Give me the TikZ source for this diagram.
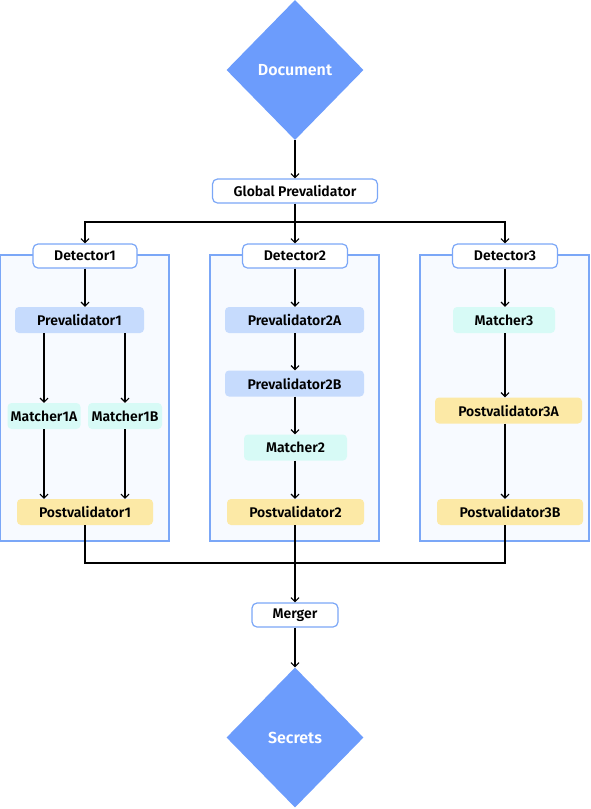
\documentclass[tikz,border=0pt]{standalone}
\usepackage{fontspec}
\setmainfont{Fira Sans}[BoldFont={Fira Sans SemiBold}]
\usetikzlibrary{shapes.geometric,arrows.meta}
\definecolor{dia}{HTML}{6C9CFC}
\definecolor{bord}{HTML}{7BA7F7}
\definecolor{cont}{HTML}{F7FAFF}
\definecolor{pre}{HTML}{C6DBFD}
\definecolor{mat}{HTML}{D7FAF6}
\definecolor{post}{HTML}{FCE9A6}
\begin{document}
\begin{tikzpicture}[x=1pt,y=-1pt,
  every node/.style={font=\bfseries\fontsize{14}{16}\selectfont, inner sep=0pt},
  dianode/.style={diamond, fill=dia, text=white, minimum width=137pt, minimum height=140pt, font=\bfseries\fontsize{16}{18}\selectfont},
  wbox/.style={draw=bord, fill=white, line width=1.2pt, rounded corners=5pt, minimum height=24pt},
  prebox/.style={fill=pre, rounded corners=4pt, minimum height=26pt},
  matbox/.style={fill=mat, rounded corners=4pt, minimum height=26pt},
  postbox/.style={fill=post, rounded corners=4pt, minimum height=26pt},
  contbox/.style={draw=bord, fill=cont, line width=1.2pt, minimum width=169pt, minimum height=286pt},
  conn/.style={line width=1.2pt, black},
  arr/.style={conn, -{Straight Barb[length=4pt,width=8pt,line width=1.1pt]}}
]
\useasboundingbox (0,0) rectangle (590,809);
% containers
\node[contbox] (c1) at (84.5,398) {};
\node[contbox] (c2) at (294.5,398) {};
\node[contbox] (c3) at (504.5,398) {};
% top
\node[dianode] (doc) at (295,70) {Document};
\node[wbox, minimum width=165pt] (gp) at (295,191) {Global Prevalidator};
\coordinate (j1) at (295,222);
% detectors
\node[wbox, minimum width=104pt] (d1) at (85,256) {Detector1};
\node[wbox, minimum width=105pt] (d2) at (295,256) {Detector2};
\node[wbox, minimum width=105pt] (d3) at (505,256) {Detector3};
% column 1
\node[prebox, minimum width=129pt] (p1) at (79.5,320) {Prevalidator1};
\node[matbox, minimum width=73pt] (m1a) at (44,416) {Matcher1A};
\node[matbox, minimum width=74pt] (m1b) at (125,416) {Matcher1B};
\node[postbox, minimum width=136pt] (pv1) at (85,512) {Postvalidator1};
% column 2
\node[prebox, minimum width=139pt] (p2a) at (294.5,320) {Prevalidator2A};
\node[prebox, minimum width=139pt] (p2b) at (294.5,383.5) {Prevalidator2B};
\node[matbox, minimum width=103pt] (m2) at (295.5,447.5) {Matcher2};
\node[postbox, minimum width=137pt] (pv2) at (295.5,512) {Postvalidator2};
% column 3
\node[matbox, minimum width=102pt] (m3) at (504,320) {Matcher3};
\node[postbox, minimum width=147pt] (pv3a) at (508.5,410.5) {Postvalidator3A};
\node[postbox, minimum width=146pt] (pv3b) at (510,512) {Postvalidator3B};
% bottom
\coordinate (j2) at (295,563);
\node[wbox, minimum width=86pt] (mg) at (295,615) {Merger};
\node[dianode] (sec) at (295,737.5) {Secrets};
% connectors
\draw[arr] (doc.south) -- (gp.north);
\draw[conn] (gp.south) -- (j1);
\draw[arr] (j1) -| (d1.north);
\draw[arr] (j1) -| (d3.north);
\draw[arr] (j1) -- (d2.north);
\draw[arr] (d1.south) -- (d1.south |- p1.north);
\draw[arr] (m1a.north |- p1.south) -- (m1a.north);
\draw[arr] (m1b.north |- p1.south) -- (m1b.north);
\draw[arr] (m1a.south) -- (m1a.south |- pv1.north);
\draw[arr] (m1b.south) -- (m1b.south |- pv1.north);
\draw[arr] (d2.south) -- (d2.south |- p2a.north);
\draw[arr] (d2.south |- p2a.south) -- (d2.south |- p2b.north);
\draw[arr] (d2.south |- p2b.south) -- (d2.south |- m2.north);
\draw[arr] (d2.south |- m2.south) -- (d2.south |- pv2.north);
\draw[arr] (d3.south) -- (d3.south |- m3.north);
\draw[arr] (d3.south |- m3.south) -- (d3.south |- pv3a.north);
\draw[arr] (d3.south |- pv3a.south) -- (d3.south |- pv3b.north);
\draw[conn] (d1.south |- pv1.south) |- (j2);
\draw[conn] (d3.south |- pv3b.south) |- (j2);
\draw[arr] (d2.south |- pv2.south) -- (mg.north);
\draw[arr] (mg.south) -- (sec.north);
\end{tikzpicture}
\end{document}
